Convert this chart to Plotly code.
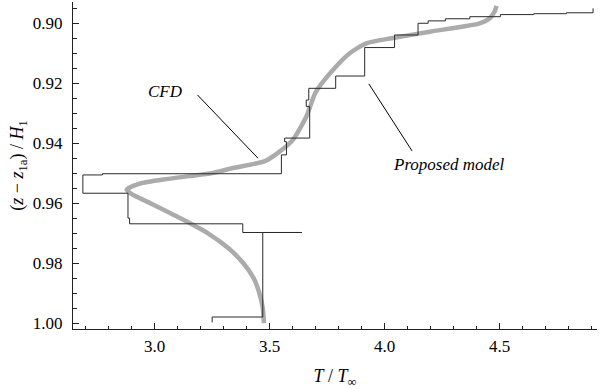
import plotly.graph_objects as go

# CFD profile (step polyline), T/T_inf and (z - z1a)/H1
cfd_T = [3.25, 3.25, 3.47, 3.47, 3.64, 3.383, 3.383, 2.891, 2.891, 2.884, 2.884,
         2.688, 2.688, 2.773, 2.773, 3.551, 3.551, 3.573, 3.573, 3.565, 3.565,
         3.674, 3.674, 3.659, 3.659, 3.670, 3.670, 3.787, 3.787, 3.913, 3.913,
         4.043, 4.043, 4.145, 4.145, 4.189, 4.189, 4.264, 4.264, 4.370, 4.370,
         4.503, 4.503, 4.648, 4.648, 4.790, 4.790, 4.906, 4.906]
cfd_z = [0.9998, 0.998, 0.998, 0.9698, 0.9698, 0.9698, 0.9669, 0.9669, 0.965, 0.965, 0.9567,
         0.9567, 0.9506, 0.9506, 0.9502, 0.9502, 0.9439, 0.9439, 0.9395, 0.9395, 0.9383,
         0.9383, 0.9278, 0.9278, 0.9256, 0.9256, 0.9217, 0.9217, 0.9176, 0.9176, 0.9081,
         0.9081, 0.9039, 0.9039, 0.9000, 0.9000, 0.8992, 0.8992, 0.8985, 0.8985, 0.8978,
         0.8978, 0.8971, 0.8971, 0.8968, 0.8968, 0.8965, 0.8965, 0.8950]

# Proposed model curve
model_T = [3.475, 3.470, 3.455, 3.430, 3.385, 3.320, 3.230, 3.110, 2.980, 2.900,
           2.878, 2.935, 3.050, 3.150, 3.250, 3.340, 3.480, 3.540, 3.600, 3.660,
           3.700, 3.775, 3.848, 3.920, 4.030, 4.196, 4.413, 4.457, 4.478, 4.486]
model_z = [1.000, 0.995, 0.990, 0.985, 0.980, 0.975, 0.970, 0.965, 0.960, 0.957,
           0.9555, 0.9535, 0.952, 0.951, 0.950, 0.9483, 0.946, 0.943, 0.939, 0.931,
           0.923, 0.9156, 0.910, 0.9067, 0.905, 0.9028, 0.900, 0.8983, 0.8961, 0.8942]

x_ticks = [3.0, 3.5, 4.0, 4.5]
x_ticklabels = ["3.0", "3.5", "4.0", "4.5"]
y_ticks = [0.90, 0.92, 0.94, 0.96, 0.98, 1.00]
y_ticklabels = ["0.90", "0.92", "0.94", "0.96", "0.98", "1.00"]

# annotation labels: text, text position, pointer start, pointer end
labels = ["CFD", "Proposed model"]
label_pos = [(3.048, 0.9228), (4.278, 0.9472)]
pointer_from = [(3.186, 0.9239), (3.931, 0.9202)]
pointer_to = [(3.449, 0.9450), (4.119, 0.9426)]

serif = '"Liberation Serif", "Times New Roman", Times, serif'
axis_col = "#222222"

fig = go.Figure()
fig.add_trace(go.Scatter(x=model_T, y=model_z, mode="lines",
                         line=dict(color="#ababab", width=4.5, shape="spline", smoothing=0.6),
                         hoverinfo="skip", showlegend=False))
fig.add_trace(go.Scatter(x=cfd_T, y=cfd_z, mode="lines",
                         line=dict(color="#2a2a2a", width=1),
                         hoverinfo="skip", showlegend=False))

for (x0, y0), (x1, y1) in zip(pointer_from, pointer_to):
    fig.add_shape(type="line", x0=x0, y0=y0, x1=x1, y1=y1, xref="x", yref="y",
                  line=dict(color="black", width=1))
for txt, (tx, ty) in zip(labels, label_pos):
    fig.add_annotation(x=tx, y=ty, text="<i>" + txt + "</i>", showarrow=False,
                       font=dict(family=serif, size=17, color="black"))

fig.update_layout(
    width=601, height=389,
    margin=dict(l=73, r=4, t=2, b=60),
    paper_bgcolor="white", plot_bgcolor="white",
    font=dict(family=serif, size=17, color="black"),
)
fig.update_xaxes(range=[2.645, 4.923], showgrid=False, zeroline=False, automargin=False,
                 showline=True, linecolor=axis_col, linewidth=1,
                 ticks="inside", ticklen=6, tickcolor=axis_col, tickwidth=1,
                 tickvals=x_ticks, ticktext=x_ticklabels, ticklabelstandoff=2,
                 tickfont=dict(family=serif, size=17, color="black"),
                 minor=dict(dtick=0.1, tick0=0, ticks="inside", ticklen=3.5,
                            tickcolor=axis_col, showgrid=False),
                 title=dict(text="<i>T</i> / <i>T</i><sub>∞</sub>", standoff=17,
                            font=dict(family=serif, size=18, color="black")))
fig.update_yaxes(range=[1.0020, 0.8929], showgrid=False, zeroline=False, automargin=False,
                 showline=True, linecolor=axis_col, linewidth=1,
                 ticks="inside", ticklen=6, tickcolor=axis_col, tickwidth=1,
                 tickvals=y_ticks, ticktext=y_ticklabels, ticklabelstandoff=6,
                 tickfont=dict(family=serif, size=17, color="black"),
                 minor=dict(dtick=0.005, tick0=0, ticks="inside", ticklen=3.5,
                            tickcolor=axis_col, showgrid=False),
                 title=dict(text="(<i>z</i> − <i>z</i><sub>1a</sub>) / <i>H</i><sub>1</sub>",
                            standoff=4, font=dict(family=serif, size=18, color="black")))

fig.write_html("out.html", config={"displayModeBar": False},
               post_script="document.body.style.margin='0';")
